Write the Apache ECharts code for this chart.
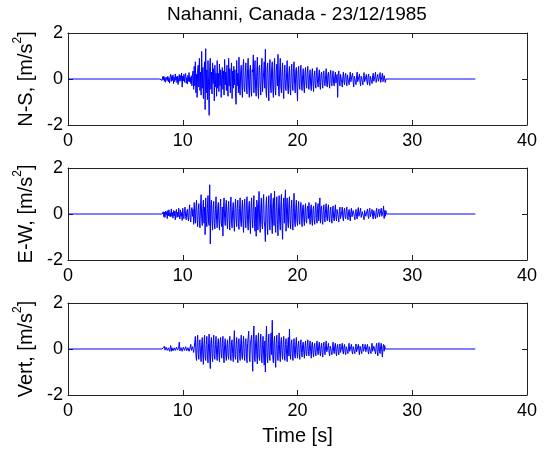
<!DOCTYPE html>
<html>
<head>
<meta charset="utf-8">
<script src="https://cdn.jsdelivr.net/npm/echarts@6/dist/echarts.min.js"></script>
<style>
  html, body { margin: 0; padding: 0; background: #fff; }
  #chart { width: 544px; height: 455px; }
</style>
</head>
<body>
<div id="chart"></div>
<script>
// record settings
var sampleStart = 8.0;   // s, first listed sample
var sampleStep = 0.05;   // s
var recordEnd = 35.5;    // s, trace stays flat until here
var xTicks = [0, 10, 20, 30, 40];
var yTicks = [-2, 0, 2];
var channelNames = ["N-S", "E-W", "Vert"];

// acceleration [m/s^2], one line per second starting at 8 s
var nsValues = [
  0, 0, 0, 0.05, -0.06, 0.1, -0.04, 0.12, -0.1, 0.06, -0.14, 0.08, 0.16, -0.07, 0.12, -0.12, 0.05, -0.18, 0.1, 0.2,
  -0.1, 0.14, -0.06, 0.18, -0.2, 0.08, -0.12, 0.22, -0.05, 0.1, -0.16, 0.12, -0.24, 0.06, 0.2, -0.1, 0.15, -0.08, 0.26, -0.35,
  0.12, -0.08, 0.2, -0.14, 0.1, 0.24, -0.18, 0.06, -0.22, 0.16, -0.1, 0.28, -0.12, 0.08, -0.2, 0.14, -0.3, 0.22, 0.35, -0.45,
  0.55, -0.3, 0.75, -0.6, 0.2, -0.8, 0.45, 0.6, -0.35, 0.9, -0.5, 0.3, -0.7, 1.2, -0.4, 0.5, -0.85, 0.35, 0.75, -1.33,
  1.32, -0.6, 0.4, -0.9, 0.8, -0.3, -1.58, 0.55, 0.9, -0.45, 0.3, -0.65, 0.7, -0.2, 0.45, -0.95, 0.6, -0.35, 0.25, -0.75,
  0.8, -0.4, 0.25, -0.55, 0.65, -0.3, 0.4, -0.8, 0.2, 0.5, -0.45, 0.35, -0.7, 0.85, -0.25, 0.3, -0.5, 0.6, -0.35, -0.75,
  0.9, -0.3, 0.45, -0.6, 0.2, 0.7, -0.85, 0.35, -0.4, 0.55, -0.25, 0.4, -0.7, -1.1, 0.8, -0.3, 0.25, -0.6, 0.95, -0.45,
  -0.7, 0.35, 0.6, -0.3, -0.8, 0.5, 0.85, -0.4, -0.55, 0.25, 0.7, -0.35, -0.65, 0.45, 0.9, -0.3, -0.8, 0.4, 0.6, -0.5,
  -0.75, 0.4, 0.3, 1.05, -0.6, 0.25, 0.8, -0.45, -0.75, 0.3, 0.95, -0.4, -0.85, 0.5, 0.6, -0.3, -0.7, 0.35, 0.9, -0.55,
  -0.6, 0.3, 0.75, -0.4, 1.29, -0.5, -0.8, 0.45, 0.7, -0.3, -0.95, 0.4, 0.85, -0.35, -0.6, 0.5, 0.75, -0.45, -0.8, 0.3,
  0.9, -0.4, -0.7, 0.35, 0.65, -0.3, 1.07, -0.5, -0.75, 0.4, 0.9, -0.35, -0.6, 0.3, 0.7, -0.45, -0.85, 0.25, 0.6, -0.4,
  -0.5, 0.3, 0.8, -0.35, -0.65, 0.25, 0.55, -0.4, -0.7, 0.3, 0.65, -0.3, -0.5, 0.45, 0.75, -0.25, -0.6, 0.35, 0.5, -0.3,
  -0.96, 0.3, 0.55, -0.25, -0.45, 0.35, 0.6, -0.3, -0.5, 0.2, 0.45, -0.35, -0.6, 0.25, 0.5, -0.2, -0.4, 0.3, 0.55, -0.25,
  -0.45, 0.2, 0.4, -0.3, -0.5, 0.25, 0.45, -0.2, -0.55, 0.15, 0.35, -0.25, -0.4, 0.3, 0.5, -0.2, -0.35, 0.15, 0.4, -0.3,
  -0.45, 0.2, 0.3, -0.15, -0.4, 0.25, 0.35, -0.2, -0.3, 0.15, 0.45, -0.25, -0.35, 0.2, 0.3, -0.15, -0.4, 0.22, 0.38, -0.2,
  -0.3, 0.15, 0.35, -0.2, -0.3, 0.12, 0.3, -0.18, -0.25, 0.2, -0.8, 0.15, 0.35, -0.12, -0.3, 0.2, 0.25, -0.15, -0.35, 0.1,
  0.3, -0.12, -0.25, 0.15, 0.25, -0.1, -0.3, 0.18, 0.2, -0.15, -0.25, 0.1, 0.3, -0.12, -0.2, 0.15, 0.25, -0.1, -0.35, 0.12,
  0.2, -0.1, -0.25, 0.15, 0.3, -0.12, -0.2, 0.1, 0.22, -0.15, -0.3, 0.12, 0.18, -0.1, -0.25, 0.15, 0.28, -0.12, -0.2, 0.1,
  0.2, -0.12, -0.25, 0.1, 0.22, -0.15, -0.28, 0.12, 0.18, -0.1, -0.2, 0.15, 0.25, -0.1, -0.15, 0.12, 0.3, -0.15, -0.22, 0.1,
  0.2, -0.1, -0.18, 0.12, 0.28, -0.15, -0.22, 0.1, 0.25, -0.12, -0.2, 0.15, 0.12, -0.15, 0
];
var ewValues = [
  0, 0, 0, 0, 0, -0.06, 0.1, -0.12, 0.08, -0.15, 0.12, -0.05, 0.1, -0.2, 0.15, -0.08, 0.18, -0.1, 0.05, -0.12,
  0.22, -0.1, 0.06, -0.18, 0.15, -0.08, 0.12, -0.25, 0.1, 0.2, -0.15, 0.08, -0.12, 0.25, -0.05, -0.22, 0.18, -0.1, 0.06, -0.28,
  0.25, -0.1, -0.2, 0.15, 0.3, -0.12, -0.25, 0.08, 0.2, -0.15, -0.3, 0.12, 0.4, -0.2, -0.35, 0.15, 0.28, -0.1, 0.2, -0.45,
  0.5, -0.2, -0.4, 0.3, 0.6, -0.25, -0.55, 0.2, 0.45, -0.3, -0.6, 0.35, 0.84, -0.2, -0.5, 0.25, 0.6, -0.4, 0.3, -0.9,
  0.7, -0.3, -0.55, 0.25, 0.8, -0.35, -0.5, 1.27, -1.3, 0.4, 0.6, -0.25, -0.7, 0.3, 0.55, -0.4, -0.65, 0.2, 0.75, -0.3,
  -0.6, 0.25, 0.5, -0.3, -0.7, 0.2, 0.65, -0.35, -0.55, 0.3, -0.96, 0.25, 0.7, -0.2, -0.5, 0.35, 0.6, -0.3, -0.65, 0.2,
  0.55, -0.25, -0.7, 0.3, 0.74, -0.35, -0.6, 0.2, 0.5, -0.3, -0.75, 0.25, 0.65, -0.2, -0.55, 0.3, 0.6, -0.4, -0.67, 0.25,
  0.7, -0.3, -0.55, 0.2, 0.6, -0.35, -0.8, 0.3, 0.65, -0.25, -0.6, 0.4, 0.75, -0.3, -0.7, 0.25, 0.55, -0.35, -0.85, 0.3,
  0.7, -0.25, -0.6, 0.35, 0.8, -0.4, -0.75, 0.3, -0.97, 0.6, 0.4, -0.7, 0.3, 0.98, -0.35, -0.8, 0.25, 0.7, -0.45, -0.65,
  0.4, 0.85, -0.3, -0.6, -1.2, 0.35, 0.75, -0.4, -0.9, 0.3, 0.8, -0.35, -0.7, 0.45, 0.9, -0.3, -0.85, 0.4, 0.7, -0.5,
  1.0, -0.4, -0.8, 0.35, 0.75, -0.45, -0.95, 0.3, 0.8, -0.35, -0.7, 0.4, 0.85, -0.5, -1.1, 0.3, 0.7, -0.4, 0.5, 1.05,
  -0.75, 0.3, 0.7, -0.35, -0.6, 0.4, 0.75, -0.3, -0.65, 0.25, 0.6, -0.4, -0.7, 0.3, 0.9, -0.35, -0.55, 0.25, 0.6, -0.3,
  -0.5, 0.2, 0.55, -0.3, -0.45, 0.25, 0.5, -0.2, -0.55, 0.3, 0.4, -0.25, -0.5, 0.2, 0.45, -0.3, -0.4, 0.25, 0.35, -0.2,
  0.5, -0.2, -0.45, 0.25, 0.4, -0.3, -0.5, 0.2, 0.35, -0.25, -0.45, 0.15, 0.5, -0.2, -0.4, 0.25, 0.45, -0.3, 0.3, 0.7,
  -0.4, 0.2, 0.35, -0.25, -0.45, 0.15, 0.4, -0.2, -0.35, 0.25, 0.45, -0.15, -0.3, 0.2, 0.4, -0.2, -0.35, 0.15, 0.3, -0.2,
  -0.4, 0.15, 0.35, -0.2, -0.3, 0.12, 0.4, -0.15, -0.3, 0.2, 0.25, -0.12, -0.35, 0.15, 0.3, -0.2, -0.25, 0.1, 0.3, -0.15,
  -0.3, 0.12, 0.25, -0.1, -0.2, 0.15, 0.3, -0.12, -0.25, 0.1, 0.2, -0.15, -0.3, 0.1, 0.25, -0.12, -0.2, 0.15, 0.22, -0.1,
  -0.25, 0.1, 0.2, -0.12, -0.22, 0.15, 0.28, -0.1, -0.18, 0.12, 0.25, -0.15, -0.2, 0.1, 0.18, -0.12, -0.25, 0.15, 0.2, -0.1,
  -0.18, 0.12, 0.22, -0.1, -0.2, 0.15, 0.25, -0.12, -0.15, 0.1, 0.2, -0.12, -0.22, 0.15, 0.18, -0.1, -0.2, 0.12, 0.25, -0.15,
  -0.2, 0.1, 0.22, -0.12, -0.18, 0.15, 0.25, -0.1, -0.15, 0.12, 0.35, -0.2, 0.15, -0.1, 0.15, 0
];
var vertValues = [
  0, 0, 0, 0, 0, 0.05, -0.08, 0.06, 0.12, -0.05, -0.1, 0.08, 0.1, -0.06, -0.12, 0.05, 0.08, -0.1, -0.04, 0.15,
  -0.1, 0.06, 0.12, -0.08, -0.15, 0.05, 0.1, -0.06, -0.12, 0.08, 0.15, -0.05, -0.1, 0.1, 0.3, -0.08, -0.15, 0.06, 0.12, -0.1,
  -0.12, 0.08, 0.15, -0.06, -0.1, 0.1, 0.18, -0.08, -0.15, 0.06, 0.12, -0.1, -0.18, 0.08, 0.2, -0.06, -0.12, 0.1, 0.18, -0.15,
  -0.2, 0.3, 0.55, -0.3, -0.5, 0.25, 0.6, -0.2, -0.45, 0.3, 0.4, -0.25, -0.55, 0.2, 0.5, -0.3, -0.67, 0.25, 0.6, -0.35,
  -0.5, 0.2, 0.55, -0.3, -0.6, 0.25, 0.65, -0.35, -0.85, 0.3, 0.5, -0.2, -0.55, 0.25, 0.6, -0.3, -0.45, 0.2, 0.55, -0.25,
  -0.5, 0.2, 0.45, -0.25, -0.55, 0.3, 0.5, -0.2, -0.4, 0.25, 0.55, -0.3, -0.6, 0.2, 0.45, -0.25, -0.5, 0.15, 0.4, -0.3,
  -0.45, 0.2, 0.55, -0.25, -0.5, 0.3, 0.4, -0.2, -0.55, 0.25, 0.8, -0.3, -0.45, 0.2, 0.5, -0.25, -0.6, 0.3, 0.45, -0.2,
  -0.5, 0.25, 0.6, -0.3, -0.45, 0.2, 0.55, -0.25, -0.5, 0.3, 0.45, -0.2, -0.6, 0.25, 0.5, 0.77, -0.3, -0.55, 0.3, 0.4,
  0.6, -0.3, -0.97, 0.4, 1.0, -0.35, -0.55, 0.3, 0.6, -0.25, -0.65, 0.3, 0.7, -0.35, -0.5, 0.25, 0.65, -0.3, -0.6, 0.2,
  0.55, -0.3, -0.7, 0.35, -1.0, 0.4, 1.0, -0.3, -0.6, 0.25, 0.65, -0.35, -0.5, 0.3, 0.7, -0.25, 1.25, -0.4, -0.6, 0.3,
  0.55, -0.35, -0.8, 0.25, 0.6, -0.3, -0.5, 0.2, 0.7, -0.25, -0.55, 0.3, 0.5, -0.2, -0.45, 0.25, 0.55, -0.3, -0.5, 0.2,
  0.45, -0.25, -0.55, 0.2, 0.5, -0.3, 0.87, -0.2, -0.45, 0.25, 0.4, -0.2, -0.5, 0.15, 0.45, -0.25, -0.4, 0.2, 0.5, -0.15,
  -0.4, 0.15, 0.35, -0.2, -0.45, 0.2, 0.4, -0.15, -0.35, 0.2, 0.3, -0.15, -0.4, 0.12, 0.35, -0.2, -0.3, 0.15, 0.4, -0.12,
  -0.3, 0.15, 0.35, -0.12, -0.4, 0.2, 0.3, -0.15, -0.35, 0.1, 0.25, -0.15, -0.3, 0.12, 0.35, -0.1, -0.25, 0.15, 0.3, -0.12,
  -0.3, 0.1, 0.25, -0.15, -0.35, 0.12, 0.3, -0.1, -0.25, 0.15, 0.35, -0.12, -0.2, 0.1, 0.25, -0.15, -0.3, 0.12, 0.2, -0.1,
  -0.25, 0.12, 0.3, -0.1, -0.2, 0.15, 0.25, -0.12, -0.3, 0.1, 0.2, -0.12, -0.25, 0.1, 0.22, -0.15, -0.2, 0.1, 0.25, -0.12,
  -0.22, 0.1, 0.2, -0.12, -0.25, 0.1, 0.18, -0.1, -0.2, 0.12, 0.25, -0.1, -0.18, 0.1, 0.2, -0.12, -0.22, 0.1, 0.18, -0.1,
  -0.2, 0.1, 0.22, -0.12, -0.18, 0.1, 0.2, -0.1, -0.25, 0.12, 0.18, -0.1, -0.2, 0.12, 0.22, -0.1, -0.15, 0.1, 0.2, -0.12,
  -0.18, 0.1, 0.2, -0.12, -0.22, 0.1, 0.15, -0.1, -0.2, 0.12, 0.25, -0.1, -0.18, 0.12, 0.2, -0.1, -0.22, 0.12, 0.25, -0.1,
  -0.3, 0.12, 0.28, -0.1, -0.2, 0.15, 0.25, -0.12, -0.35, 0.1, 0.2, -0.1, 0.15, 0
];

function toTrace(values) {
  var pts = [[0, 0]];
  for (var i = 0; i < values.length; i++) {
    var t = Math.round((sampleStart + i * sampleStep) * 100) / 100;
    pts.push([t, values[i]]);
  }
  pts.push([recordEnd, 0]);
  return pts;
}

var traces = [toTrace(nsValues), toTrace(ewValues), toTrace(vertValues)];

var font = "Liberation Sans, Arial, sans-serif";
var boxColor = "#222";
var gridTops = [33, 168, 303];

var grids = [], xAxes = [], yAxes = [], series = [];
for (var k = 0; k < 3; k++) {
  grids.push({ left: 68, top: gridTops[k], width: 459, height: 92 });
  var isLast = k === 2;
  // bottom x axis with labels
  xAxes.push({
    type: "value", gridIndex: k, min: xTicks[0], max: xTicks[xTicks.length - 1], interval: 10,
    position: "bottom",
    name: isLast ? "Time [s]" : "",
    nameLocation: "middle", nameGap: 31,
    nameTextStyle: { fontFamily: font, fontSize: 20, color: "#000" },
    axisLine: { show: true, onZero: false, lineStyle: { color: boxColor, width: 1 } },
    axisTick: { show: true, inside: true, length: 5, lineStyle: { color: boxColor } },
    axisLabel: { show: true, margin: 7, fontFamily: font, fontSize: 18, color: "#000", showMinLabel: true, showMaxLabel: true },
    splitLine: { show: false }
  });
  // top edge of the box, ticks only
  xAxes.push({
    type: "value", gridIndex: k, min: 0, max: 40, interval: 10, position: "top",
    axisLine: { show: true, onZero: false, lineStyle: { color: boxColor, width: 1 } },
    axisTick: { show: true, inside: true, length: 5, lineStyle: { color: boxColor } },
    axisLabel: { show: false }, splitLine: { show: false }
  });
  yAxes.push({
    type: "value", gridIndex: k, min: yTicks[0], max: yTicks[yTicks.length - 1], interval: 2,
    position: "left",
    name: "{n|" + channelNames[k] + ", [m/s}{s|2}{n|]}",
    nameLocation: "middle", nameGap: 18, nameRotate: 90,
    nameTextStyle: {
      color: "#000",
      rich: {
        n: { fontFamily: font, fontSize: 20, color: "#000", lineHeight: 24, verticalAlign: "bottom" },
        s: { fontFamily: font, fontSize: 12, color: "#000", lineHeight: 24, verticalAlign: "top", padding: [0, 0, 11, 0] }
      }
    },
    axisLine: { show: true, onZero: false, lineStyle: { color: boxColor, width: 1 } },
    axisTick: { show: true, inside: true, length: 5, lineStyle: { color: boxColor } },
    axisLabel: { show: true, margin: 5, fontFamily: font, fontSize: 18, color: "#000" },
    splitLine: { show: false }
  });
  // right edge of the box, ticks only
  yAxes.push({
    type: "value", gridIndex: k, min: -2, max: 2, interval: 2, position: "right",
    axisLine: { show: true, onZero: false, lineStyle: { color: boxColor, width: 1 } },
    axisTick: { show: true, inside: true, length: 5, lineStyle: { color: boxColor } },
    axisLabel: { show: false }, splitLine: { show: false }
  });
  series.push({
    type: "line",
    xAxisIndex: 2 * k, yAxisIndex: 2 * k,
    data: traces[k],
    showSymbol: false, symbol: "none",
    lineStyle: { color: "#0000ff", width: 1 },
    animation: false
  });
}

var option = {
  animation: false,
  backgroundColor: "#fff",
  title: {
    text: "Nahanni, Canada - 23/12/1985",
    left: 292, top: 0, textAlign: "center",
    textStyle: { fontFamily: font, fontSize: 19, fontWeight: "normal", color: "#000" }
  },
  grid: grids,
  xAxis: xAxes,
  yAxis: yAxes,
  series: series
};

var myChart = echarts.init(document.getElementById("chart"), null, { renderer: "canvas" });
myChart.setOption(option);
</script>
</body>
</html>
